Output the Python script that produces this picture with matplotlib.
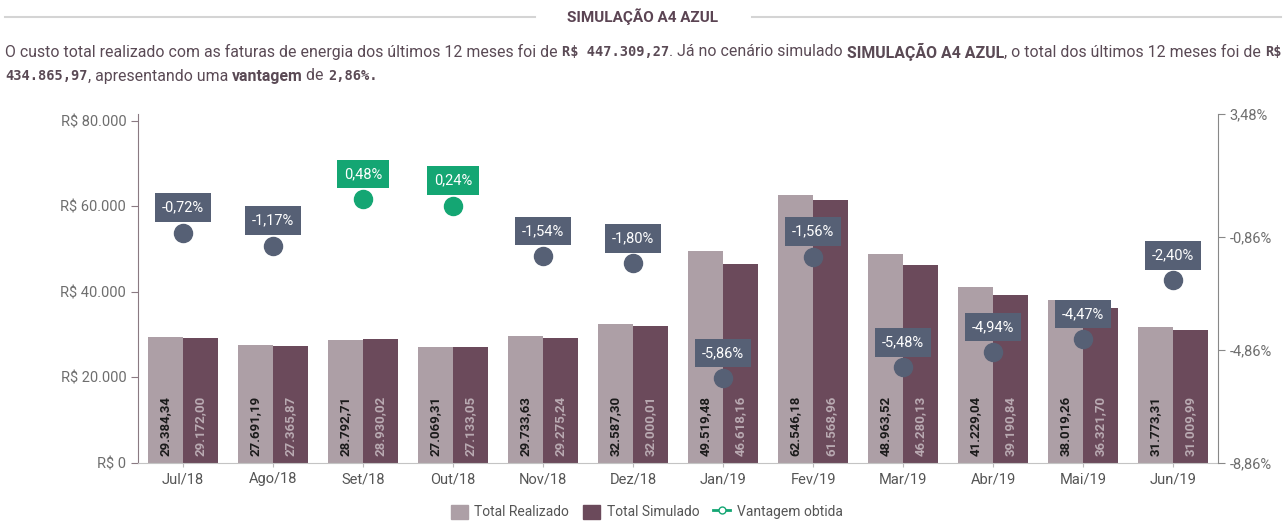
import matplotlib
matplotlib.use("Agg")
import matplotlib.pyplot as plt
import numpy as np
from matplotlib.lines import Line2D
from matplotlib.patches import Patch

plt.rcParams['font.family'] = ['Roboto', 'DejaVu Sans']

# dados
meses = ['Jul/18', 'Ago/18', 'Set/18', 'Out/18', 'Nov/18', 'Dez/18',
         'Jan/19', 'Fev/19', 'Mar/19', 'Abr/19', 'Mai/19', 'Jun/19']
realizado = [29384.34, 27691.19, 28792.71, 27069.31, 29733.63, 32587.30,
             49519.48, 62546.18, 48963.52, 41229.04, 38019.26, 31773.31]
simulado = [29172.00, 27365.87, 28930.02, 27133.05, 29275.24, 32000.01,
            46618.16, 61568.96, 46280.13, 39190.84, 36321.70, 31009.99]
vantagem = [-0.72, -1.17, 0.48, 0.24, -1.54, -1.80,
            -5.86, -1.56, -5.48, -4.94, -4.47, -2.40]
ticks_esq = [0, 20000, 40000, 60000, 80000]
ticks_dir = [-8.86, -4.86, -0.86, 3.48]

c_real = '#ad9fa6'
c_sim = '#6b4a5b'
c_neg = '#566075'
c_pos = '#14a673'
c_txt = '#5a4a55'


def br(v, dec=2):
    s = f"{v:,.{dec}f}"
    return s.replace(',', 'X').replace('.', ',').replace('X', '.')


fig = plt.figure(figsize=(12.86, 5.23), dpi=100)
W, H = 1286, 523

# titulo com linhas dos lados
yt = 1 - 17 / H
fig.text(0.5, yt, 'SIMULAÇÃO A4 AZUL', ha='center', va='center',
         fontsize=11, fontweight='bold', color='#5b4453')
fig.add_artist(Line2D([5 / W, 535 / W], [yt, yt], transform=fig.transFigure,
                      color='#d4d4d4', lw=1.5))
fig.add_artist(Line2D([752 / W, 1281 / W], [yt, yt], transform=fig.transFigure,
                      color='#d4d4d4', lw=1.5))

# paragrafo com partes em negrito
normal = dict(fontsize=11.4, color=c_txt)
bold = dict(fontsize=11.4, color=c_txt, fontweight='bold')
mono = dict(fontsize=9.8, color=c_txt, fontweight='bold', family='DejaVu Sans Mono')

linha1 = [("O custo total realizado com as faturas de energia dos últimos 12 meses foi de ", normal),
          ("R$ 447.309,27", mono),
          (". Já no cenário simulado ", normal),
          ("SIMULAÇÃO A4 AZUL", bold),
          (", o total dos últimos 12 meses foi de ", normal),
          ("R$", mono)]
linha2 = [("434.865,97", mono),
          (", apresentando uma ", normal),
          ("vantagem", bold),
          (" de ", normal),
          ("2,86%.", mono)]

r = fig.canvas.get_renderer()


def rich(x, y, parts):
    for txt, st in parts:
        t = fig.text(x, y, txt, va='center', ha='left', **st)
        x += t.get_window_extent(renderer=r).width / fig.bbox.width


rich(5 / W, 1 - 52 / H, linha1)
rich(5 / W, 1 - 76 / H, linha2)

# eixos
ax = fig.add_axes([138 / W, 1 - 463 / H, 1080 / W, 349 / H])
x = np.arange(len(meses))
w = 0.39
ax.bar(x - w / 2, realizado, w, color=c_real, zorder=2)
ax.bar(x + w / 2, simulado, w, color=c_sim, zorder=2)

for i in range(len(meses)):
    ax.annotate(br(realizado[i]), (x[i] - w / 2, 0), xytext=(0, 5), textcoords='offset points',
                rotation=90, ha='center', va='bottom', fontsize=9.5, fontweight='bold',
                color='#1a1a1a', zorder=3)
    ax.annotate(br(simulado[i]), (x[i] + w / 2, 0), xytext=(0, 5), textcoords='offset points',
                rotation=90, ha='center', va='bottom', fontsize=9.5, fontweight='bold',
                color='#b9aab2', zorder=3)

ax.set_xlim(-0.5, len(meses) - 0.5)
ax.set_ylim(0, 81600)
ax.set_yticks(ticks_esq)
ax.set_yticklabels(['R$ ' + br(t, 0) for t in ticks_esq])
ax.set_xticks(x)
ax.set_xticklabels(meses)
ax.tick_params(axis='y', colors='#8a7a82', labelcolor='#6e6e6e', labelsize=10.5, length=5)
ax.tick_params(axis='x', colors='#bbbbbb', labelcolor='#555555', labelsize=10.5, length=3)
ax.spines['top'].set_visible(False)
ax.spines['right'].set_visible(False)
ax.spines['left'].set_color('#8a7a82')
ax.spines['bottom'].set_color('#c4c4c4')

ax2 = ax.twinx()
ax2.set_ylim(-8.86, 3.48)
ax2.set_yticks(ticks_dir)
ax2.set_yticklabels([br(t) + '%' for t in ticks_dir])
ax2.tick_params(axis='y', colors='#888888', labelcolor='#6e6e6e', labelsize=10.5, length=5)
for s in ['top', 'left', 'bottom']:
    ax2.spines[s].set_visible(False)
ax2.spines['right'].set_color('#888888')

for i, v in enumerate(vantagem):
    cor = c_pos if v > 0 else c_neg
    ax2.plot(x[i], v, 'o', color=cor, markersize=13, zorder=4)
    ax2.annotate(br(v) + '%', (x[i], v), xytext=(0, 18), textcoords='offset points',
                 ha='center', va='center', fontsize=10.5, color='white', zorder=5,
                 bbox=dict(boxstyle='square,pad=0.5', fc=cor, ec='none'))

# legenda
handles = [Patch(color=c_real, label='Total Realizado'),
           Patch(color=c_sim, label='Total Simulado'),
           Line2D([0], [0], color=c_pos, lw=2, marker='o', markersize=5,
                  markerfacecolor='white', label='Vantagem obtida')]
fig.legend(handles=handles, loc='center', bbox_to_anchor=(0.503, 1 - 512 / H), ncol=3,
           frameon=False, fontsize=10, labelcolor='#555555', handlelength=1.2,
           handleheight=1.2, columnspacing=1.0, handletextpad=0.5)

fig.savefig('out.png', dpi=100)
